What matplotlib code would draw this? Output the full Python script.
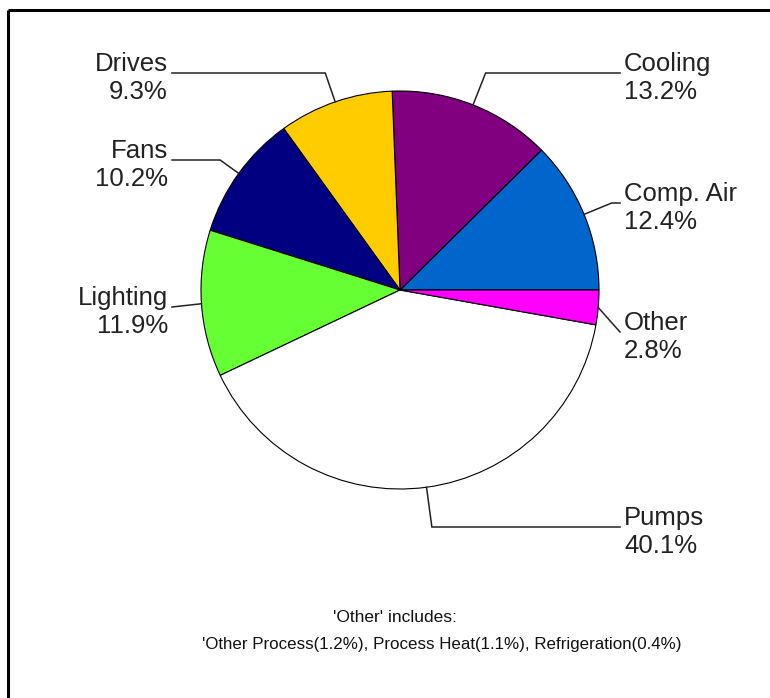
import matplotlib
matplotlib.use("Agg")
import matplotlib.pyplot as plt
import numpy as np
from matplotlib import font_manager

# data, counter-clockwise from 3 o'clock
labels = ["Comp. Air", "Cooling", "Drives", "Fans", "Lighting", "Pumps", "Other"]
shares = [12.4, 13.2, 9.3, 10.2, 11.9, 40.1, 2.8]
colors = ["#0066CC", "#800080", "#FFCC00", "#000080", "#66FF33", "#FFFFFF", "#FF00FF"]
note_title = "'Other' includes:"
note_body = "'Other Process(1.2%), Process Heat(1.1%), Refrigeration(0.4%)"

# label layout (pixel coords): leader end point, and whether the leader bends
leader_end = {
    "Comp. Air": (620, 203), "Cooling": (620, 73), "Drives": (172, 73),
    "Fans": (172, 160), "Lighting": (172, 307), "Pumps": (620, 527),
    "Other": (620, 332),
}
bends = {"Comp. Air": True, "Cooling": True, "Drives": True, "Fans": True,
         "Lighting": False, "Pumps": True, "Other": False}

W, H = 770, 698
cx, cy, R = 400, 290, 199

names = [f.name for f in font_manager.fontManager.ttflist]
font = "Liberation Sans"
narrow = "Liberation Sans Narrow" if "Liberation Sans Narrow" in names else None

fig = plt.figure(figsize=(W / 100, H / 100), dpi=100)
ax = fig.add_axes([0, 0, 1, 1])

# y axis is flipped, so clockwise in data = counter-clockwise on screen
wedges, _ = ax.pie(shares, colors=colors, startangle=0, counterclock=False,
                   center=(cx, cy), radius=R,
                   wedgeprops=dict(edgecolor="black", linewidth=0.8))
ax.set_xlim(0, W)
ax.set_ylim(H, 0)
ax.set_aspect("equal")
ax.axis("off")

for w, lab, val in zip(wedges, labels, shares):
    mid = np.deg2rad((w.theta1 + w.theta2) / 2)
    u = np.array([np.cos(mid), np.sin(mid)])
    p = np.array([cx, cy]) + R * u
    ex, ey = leader_end[lab]
    if bends[lab]:
        t = (ey - p[1]) / u[1]
        e = p + t * u
        xs, ys = [p[0], e[0], ex], [p[1], e[1], ey]
    else:
        xs, ys = [p[0], ex], [p[1], ey]
    ax.plot(xs, ys, color="#222222", lw=1.1, solid_joinstyle="miter")
    right = ex > cx
    ax.text(ex + (4 if right else -4), ey + 5, f"{lab}\n{val}%",
            ha="left" if right else "right", va="center",
            multialignment="left" if right else "right",
            fontsize=18.5, family=font, color="#222222", linespacing=1.2)

# footnote
if narrow:
    ax.text(395, 618, note_title, ha="center", va="center", fontsize=14,
            family=narrow, color="#111111")
    ax.text(442, 645, note_body, ha="center", va="center", fontsize=14,
            family=narrow, color="#111111")
else:
    ax.text(395, 618, note_title, ha="center", va="center", fontsize=12.5,
            family=font, color="#111111")
    ax.text(442, 645, note_body, ha="center", va="center", fontsize=12.2,
            family=font, color="#111111")

# frame edges (top and left only)
ax.plot([8, W], [10, 10], color="black", lw=2.2, solid_capstyle="butt")
ax.plot([8, 8], [10, H], color="black", lw=2.2, solid_capstyle="butt")

fig.savefig("out.png", dpi=100, facecolor="white")
